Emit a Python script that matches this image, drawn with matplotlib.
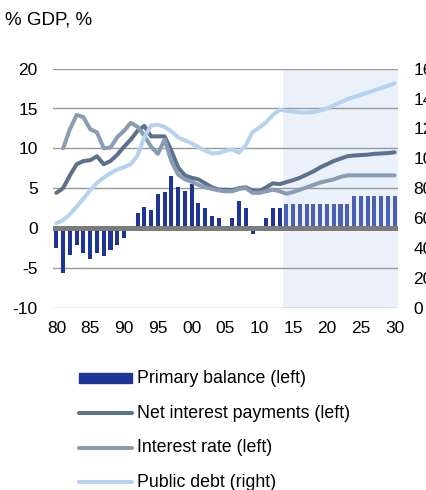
import matplotlib
matplotlib.use("Agg")
import matplotlib.pyplot as plt
import numpy as np
from matplotlib.lines import Line2D
from matplotlib.patches import Rectangle

plt.rcParams["font.family"] = ["Liberation Sans", "DejaVu Sans"]
plt.rcParams["axes.unicode_minus"] = False

years = list(range(1980, 2031))
forecast_start = 2014

primary_balance = [
	-2.5, -5.7, -3.4, -2.2, -3.1, -3.9, -3.2, -3.5, -2.8, -2.2,
	-1.3, 0.0, 1.9, 2.6, 2.3, 4.2, 4.5, 6.5, 5.2, 4.6,
	5.5, 3.1, 2.5, 1.5, 1.2, 0.0, 1.2, 3.4, 2.5, -0.8,
	0.0, 1.2, 2.5, 2.5,
	3.0, 3.0, 3.0, 3.0, 3.0, 3.0, 3.0, 3.0, 3.0, 3.0,
	4.0, 4.0, 4.0, 4.0, 4.0, 4.0, 4.0,
]
net_interest = [
	4.4, 5.0, 6.6, 8.0, 8.4, 8.5, 9.0, 8.0, 8.4, 9.2,
	10.2, 11.1, 12.2, 12.8, 11.5, 11.5, 11.5, 9.7, 7.6, 6.6,
	6.3, 6.1, 5.6, 5.1, 4.8, 4.8, 4.75, 5.0, 5.1, 4.7,
	4.6, 5.1, 5.6, 5.5,
	5.75, 6.0, 6.3, 6.7, 7.1, 7.6, 8.0, 8.4, 8.7, 9.0,
	9.1, 9.15, 9.2, 9.3, 9.35, 9.4, 9.5,
]
interest_rate = [
	np.nan, 10.0, 12.4, 14.2, 13.9, 12.4, 12.0, 10.0, 10.1, 11.4,
	12.2, 13.2, 12.7, 11.6, 10.2, 9.3, 11.1, 8.4, 6.7, 6.1,
	5.8, 5.4, 5.1, 4.9, 4.7, 4.6, 4.6, 4.9, 5.0, 4.4,
	4.4, 4.6, 4.8, 4.6,
	4.3, 4.5, 4.8, 5.1, 5.4, 5.7, 5.9, 6.1, 6.4, 6.6,
	6.6, 6.6, 6.6, 6.6, 6.6, 6.6, 6.6,
]
public_debt = [
	56.5, 58.5, 62.5, 67.5, 73.0, 78.5, 83.5, 87.0, 90.0, 92.5,
	94.0, 96.0, 102.0, 114.0, 122.0, 122.5, 121.0, 118.0, 114.0, 112.0,
	110.0, 107.5, 105.0, 103.3, 103.5, 105.0, 106.0, 103.7, 108.8, 117.5,
	120.5, 124.0, 129.0, 132.5,
	131.8, 131.2, 130.8, 130.6, 131.0, 132.0, 133.5, 135.4, 137.5, 139.5,
	141.0, 142.5, 144.0, 145.5, 147.0, 148.6, 150.2,
]

xtick_years = list(range(1980, 2031, 5))
xtick_labels = ["80", "85", "90", "95", "00", "05", "10", "15", "20", "25", "30"]

c_bar = "#1f3596"
c_bar_fc = "#4a5fb6"
c_net = "#5d728a"
c_rate = "#889db3"
c_debt = "#b5d2f0"
c_shade = "#eaf1fa"

fig = plt.figure(figsize=(4.27, 4.90), dpi=100)
ax = fig.add_axes([53 / 427, 1 - 307.5 / 490, 345 / 427, 238.8 / 490])

yrs = np.array(years)
pb = np.array(primary_balance)
hist = yrs < forecast_start

ax.axvspan(forecast_start - 0.5, 2030.5, color=c_shade, lw=0, zorder=0)
for y in range(-10, 21, 5):
	if y != 0:
		ax.axhline(y, color="#9a9a9a", lw=1.0, zorder=1)

ax.bar(yrs[hist], pb[hist], width=0.6, color=c_bar, zorder=2)
ax.bar(yrs[~hist], pb[~hist], width=0.6, color=c_bar_fc, zorder=2)
ax.axhline(0, color="#7c7c7c", lw=3.6, zorder=3)

ax.plot(years, net_interest, color=c_net, lw=2.9, solid_capstyle="round", solid_joinstyle="round", zorder=4)
ax.plot(years, interest_rate, color=c_rate, lw=2.9, solid_capstyle="round", solid_joinstyle="round", zorder=5)

ax.set_xlim(1979.5, 2030.5)
ax.set_ylim(-10, 20)
ax.set_yticks(range(-10, 21, 5))
ax.set_xticks(xtick_years)
ax.set_xticklabels(xtick_labels)

ax2 = ax.twinx()
ax2.plot(years, public_debt, color=c_debt, lw=2.9, solid_capstyle="round", solid_joinstyle="round")
ax2.set_ylim(0, 160)
ax2.set_yticks(range(0, 161, 20))

for a in (ax, ax2):
	for s in a.spines.values():
		s.set_visible(False)
	a.tick_params(length=0, labelsize=12.5, colors="black")
ax.tick_params(axis="y", pad=11)
ax.tick_params(axis="x", pad=10)
ax2.tick_params(axis="y", pad=11)

fig.text(5 / 427, 1 - 20 / 490, "% GDP, %", fontsize=13.5, va="center", ha="left")

# legend drawn by hand
rows = [
	("bar", c_bar, "Primary balance (left)"),
	("line", c_net, "Net interest payments (left)"),
	("line", c_rate, "Interest rate (left)"),
	("line", c_debt, "Public debt (right)"),
]
row_y = [378, 413, 447.5, 482]
x0, x1, xt = 79 / 427, 132 / 427, 137 / 427
for (kind, col, label), yp in zip(rows, row_y):
	yf = 1 - yp / 490
	if kind == "bar":
		fig.add_artist(Rectangle((x0, yf - 5 / 490), x1 - x0, 10 / 490, transform=fig.transFigure, color=col))
	else:
		fig.add_artist(Line2D([x0, x1], [yf, yf], transform=fig.transFigure, color=col, lw=2.9, solid_capstyle="round"))
	fig.text(xt, yf, label, fontsize=12.8, va="center", ha="left")

fig.savefig("out.png", dpi=100)
